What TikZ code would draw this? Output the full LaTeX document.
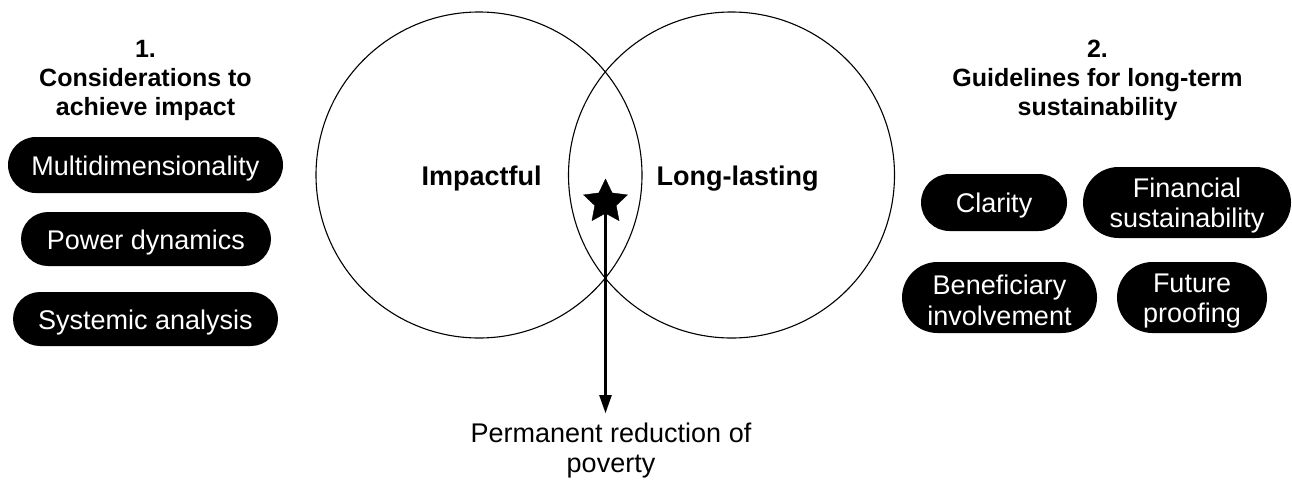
\documentclass[tikz,border=0pt]{standalone}
\usepackage{fontspec}
\setmainfont{Liberation Sans}
\usetikzlibrary{shapes.geometric,arrows.meta}
\newcommand{\toplift}{\rule{0pt}{25.5pt}}
\tikzset{
  pill/.style={fill=black, text=white, inner sep=0pt, align=center,
    font=\fontsize{27}{30.5}\selectfont},
  pillone/.style={pill, text height=22pt, text depth=2pt},
  heading/.style={align=center, inner sep=0pt, font=\fontsize{25}{29}\selectfont\bfseries},
  venn/.style={circle, draw=black, line width=1.1pt, inner sep=0pt, minimum size=326pt},
  vennlabel/.style={anchor=base, inner sep=0pt, font=\fontsize{27}{30}\selectfont\bfseries},
}
\begin{document}
\begin{tikzpicture}[x=1pt,y=-1pt]
\useasboundingbox (0,0) rectangle (1292,482);
% Venn circles
\node[venn] (L) at (479,175) {};
\node[venn] (R) at (731.5,175) {};
\node[vennlabel] (imp) at (481.5,185) {Impactful};
\node[vennlabel] (long) at (737.5,185) {Long-lasting};
% star
\node[star, star points=5, star point ratio=2.05, fill=black, draw=black,
      minimum size=46pt, inner sep=0pt] (star) at (605.5,202) {};
% result text
\node[align=center, inner sep=0pt, font=\fontsize{27}{30}\selectfont] (res) at (611,451) {Permanent reduction of\\poverty};
\draw[line width=2.2pt, -{Triangle[length=18pt,width=12pt]}] (star.south) -- (star.south |- res.north) [shorten >=10pt];
% left heading and pills
\node[heading] (h1) at (145.5,80) {1.\\Considerations to\\achieve impact};
\node[pillone, minimum width=275pt, minimum height=56pt, rounded corners=28pt] (p1) at (145.5,165) {Multidimensionality};
\node[pillone, minimum width=250pt, minimum height=54pt, rounded corners=27pt] (p2) at (146,239) {Power dynamics};
\node[pillone, minimum width=265pt, minimum height=54pt, rounded corners=27pt] (p3) at (145.5,319) {Systemic analysis};
% right heading and pills
\node[heading] (h2) at (1097.5,80) {2.\\Guidelines for long-term\\sustainability};
\node[pillone, minimum width=146pt, minimum height=57pt, rounded corners=28.5pt] (q1) at (994,202.5) {Clarity};
\node[pill, minimum width=208pt, minimum height=71pt, rounded corners=35.5pt] (q2) at (1187,202.5) {\toplift Financial\\sustainability};
\node[pill, minimum width=195pt, minimum height=71pt, rounded corners=35.5pt] (q3) at (999.5,297.5) {\toplift Beneficiary\\involvement};
\node[pill, minimum width=150pt, minimum height=71pt, rounded corners=35.5pt] (q4) at (1192,297.5) {\toplift Future\\proofing};
\end{tikzpicture}
\end{document}
